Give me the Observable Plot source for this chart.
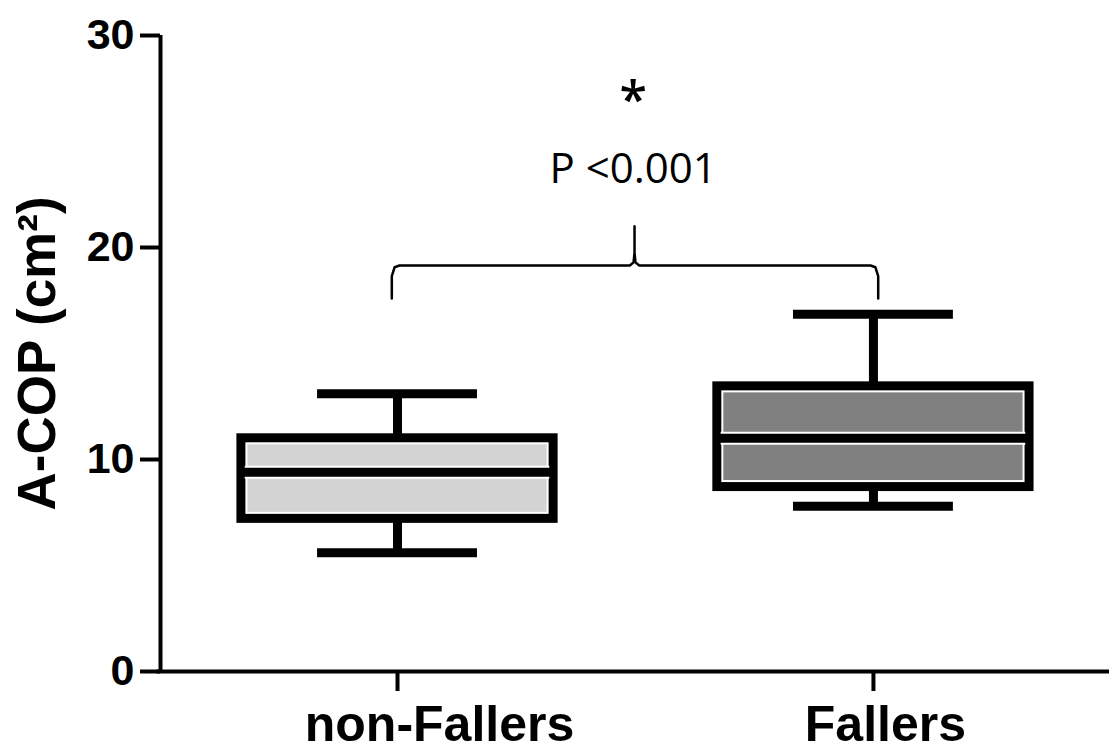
<!DOCTYPE html>
<html>
<head>
<meta charset="utf-8">
<script src="https://cdn.jsdelivr.net/npm/d3@7"></script>
<script src="https://cdn.jsdelivr.net/npm/@observablehq/plot@0.6"></script>
<style>
  html, body { margin: 0; padding: 0; background: #fff; }
  #chart svg { display: block; }
</style>
</head>
<body>
<div id="chart"></div>
<script>
// ---- data ----
const groups = ["non-Fallers", "Fallers"];
const whiskerLow = [5.6, 7.8];
const q1 = [7.2, 8.7];
const median = [9.4, 11.0];
const q3 = [11.0, 13.45];
const whiskerHigh = [13.1, 16.85];
const yTicks = [0, 10, 20, 30];
const yLabel = "A-COP (cm²)";
const star = "*";
const pText = "P <0.001";
const bracketY = 19.15;   // bracket bar level (data units)
const bracketDrop = 17.6; // bracket ends
const bracketPeak = 21.0; // bracket cusp
const starY = 26.9;
const pY = 23.7;

// ---- styles ----
const fills = ["#d3d3d3", "#808080"];
const labelShift = [42, 12]; // px shift of the category labels, as in the reference
const boxHalf = 0.328;
const capHalf = 0.168;
const font = "Liberation Sans, Arial, sans-serif";

const rows = groups.map((g, i) => ({
  g, i, lo: whiskerLow[i], q1: q1[i], med: median[i], q3: q3[i], hi: whiskerHigh[i], fill: fills[i]
}));

// bracket path built from group positions
const L = 0, R = 1, M = 0.5;
const r = 0.016, ry = 0.5;
const bracket = [
  [L - 0.012, bracketDrop],
  [L - 0.012, bracketY - ry],
  [L - 0.006, bracketY - 0.08],
  [L + r - 0.012, bracketY],
  [M - 0.012, bracketY],
  [M - 0.004, bracketY + 0.15],
  [M - 0.002, bracketY + 0.6],
  [M - 0.002, bracketPeak],
  [M - 0.002, bracketY + 0.6],
  [M, bracketY + 0.15],
  [M + 0.008, bracketY],
  [R - r + 0.01, bracketY],
  [R + 0.004, bracketY - 0.08],
  [R + 0.01, bracketY - ry],
  [R + 0.01, bracketDrop]
].map(([x, y]) => ({x, y}));

const chart = Plot.plot({
  width: 1109,
  height: 752,
  marginLeft: 160,
  marginRight: 0,
  marginTop: 35,
  marginBottom: 81,
  style: { fontFamily: font, color: "#000", background: "#fff" },
  x: { domain: [-0.498, 1.496] },
  y: { domain: [0, 30] },
  marks: [
    // axes lines
    Plot.ruleY([0], { x1: -0.505, x2: 1.496, stroke: "#000", strokeWidth: 4 }),
    Plot.ruleX([-0.498], { y1: 0, y2: 30, stroke: "#000", strokeWidth: 4 }),
    Plot.axisY({
      ticks: yTicks, tickSize: 20, tickPadding: 6, strokeWidth: 4,
      fontSize: 43, fontWeight: "bold", label: null
    }),
    Plot.axisX({
      ticks: [0, 1], tickSize: 20, text: null, strokeWidth: 4, label: null
    }),
    ...groups.map((g, i) =>
      Plot.text([g], {
        x: () => i, y: 0, dx: labelShift[i], dy: 53, fontSize: 50, fontWeight: "bold",
        textAnchor: "middle", lineAnchor: "middle"
      })
    ),
    Plot.text([yLabel], {
      frameAnchor: "left", dx: -122, rotate: -90, fontSize: 53, fontWeight: "bold",
      textAnchor: "middle"
    }),
    // boxes: fill with white halo, then black border
    Plot.rect(rows, {
      x1: (d) => d.i - boxHalf, x2: (d) => d.i + boxHalf, y1: "q1", y2: "q3",
      fill: "fill", stroke: "#fff", strokeWidth: 13
    }),
    Plot.rect(rows, {
      x1: (d) => d.i - boxHalf, x2: (d) => d.i + boxHalf, y1: "q1", y2: "q3",
      fill: "none", stroke: "#000", strokeWidth: 9
    }),
    // median
    Plot.ruleY(rows, {
      y: "med", x1: (d) => d.i - boxHalf + 0.008, x2: (d) => d.i + boxHalf - 0.008,
      stroke: "#fff", strokeWidth: 13
    }),
    Plot.ruleY(rows, {
      y: "med", x1: (d) => d.i - boxHalf, x2: (d) => d.i + boxHalf,
      stroke: "#000", strokeWidth: 9
    }),
    // whiskers
    Plot.ruleX(rows, { x: "i", y1: "q3", y2: "hi", stroke: "#000", strokeWidth: 9 }),
    Plot.ruleX(rows, { x: "i", y1: "lo", y2: "q1", stroke: "#000", strokeWidth: 9 }),
    Plot.ruleY(rows, {
      y: "hi", x1: (d) => d.i - capHalf, x2: (d) => d.i + capHalf, stroke: "#000", strokeWidth: 9
    }),
    Plot.ruleY(rows, {
      y: "lo", x1: (d) => d.i - capHalf, x2: (d) => d.i + capHalf, stroke: "#000", strokeWidth: 9
    }),
    // significance bracket and labels
    Plot.line(bracket, { x: "x", y: "y", stroke: "#000", strokeWidth: 2.5, curve: "linear", strokeLinejoin: "round" }),
    Plot.text([star], { x: M - 0.005, y: starY, fontSize: 50, fontFamily: "Open Sans, sans-serif", fontWeight: 600 }),
    Plot.text([pText], { x: M - 0.005, y: pY, fontSize: 42, fontFamily: "Open Sans, sans-serif" })
  ]
});

document.getElementById("chart").appendChild(chart);
</script>
</body>
</html>
